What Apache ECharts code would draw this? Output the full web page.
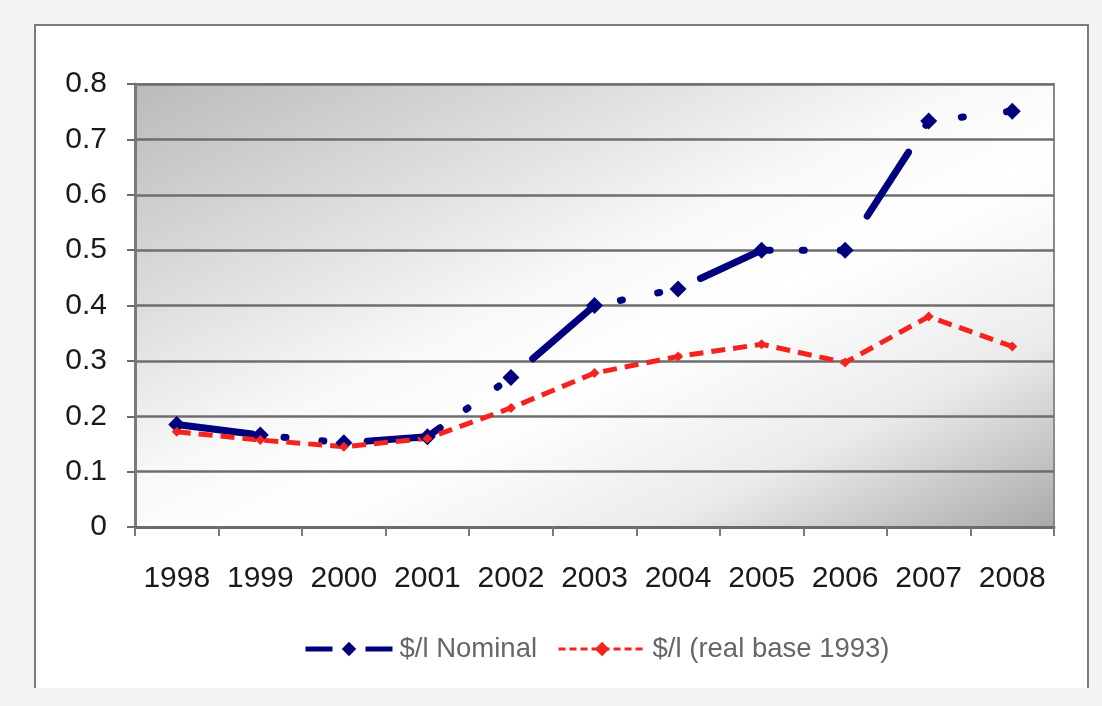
<!DOCTYPE html>
<html>
<head>
<meta charset="utf-8">
<script src="https://cdn.jsdelivr.net/npm/echarts@6/dist/echarts.min.js"></script>
<style>
  html, body { margin: 0; padding: 0; width: 1102px; height: 706px; background: #f3f3f3; overflow: hidden; }
  #frame { position: absolute; left: 34px; top: 24px; width: 1051px; height: 662px; background: #ffffff;
           border-left: 2px solid #7a7a7a; border-top: 2px solid #7a7a7a; border-right: 2px solid #7a7a7a; }
  #chart { position: absolute; left: 0; top: 0; width: 1102px; height: 706px; }
</style>
</head>
<body>
<div id="frame"></div>
<div id="chart"></div>
<script>
const years = ['1998', '1999', '2000', '2001', '2002', '2003', '2004', '2005', '2006', '2007', '2008'];
const nominal = [0.185, 0.166, 0.152, 0.163, 0.27, 0.40, 0.43, 0.50, 0.50, 0.733, 0.751];
const realBase1993 = [0.172, 0.157, 0.145, 0.16, 0.215, 0.278, 0.308, 0.33, 0.297, 0.38, 0.326];
const seriesNames = ['$/l Nominal', '$/l (real base 1993)'];

const chart = echarts.init(document.getElementById('chart'), null, { renderer: 'canvas' });
const font = 'Liberation Sans, Arial, sans-serif';

chart.setOption({
  animation: false,
  backgroundColor: 'transparent',
  grid: {
    left: 135, right: 48, top: 84, bottom: 179,
    show: true,
    borderColor: '#8a8a8a',
    borderWidth: 2,
    backgroundColor: {
      type: 'linear', x: 0, y: 0, x2: 0.375, y2: 1.625,
      colorStops: [
        { offset: 0, color: '#bababa' },
        { offset: 0.25, color: '#dcdcdc' },
        { offset: 0.45, color: '#f8f8f8' },
        { offset: 0.58, color: '#ffffff' },
        { offset: 0.78, color: '#ebebeb' },
        { offset: 1, color: '#a8a8a8' }
      ]
    }
  },
  legend: {
    left: 303, top: 635, padding: 0,
    itemWidth: 87, itemHeight: 18, itemGap: 20,
    textStyle: { fontFamily: font, fontSize: 27.5, color: '#666666', padding: [0, 0, 0, 2] },
    data: [
      { name: seriesNames[0], lineStyle: { type: [27, 33, 27], width: 5, cap: 'butt' } },
      { name: seriesNames[1], lineStyle: { type: [7, 4], width: 3, cap: 'butt' } }
    ]
  },
  xAxis: {
    type: 'category',
    data: years,
    boundaryGap: true,
    axisLine: { show: true, lineStyle: { color: '#6a6a6a', width: 3 } },
    axisTick: { show: true, interval: 0, length: 9, lineStyle: { color: '#7a7a7a', width: 2 } },
    axisLabel: { interval: 0, hideOverlap: false, margin: 37, fontFamily: font, fontSize: 30, color: '#1a1a1a' },
    splitLine: { show: false }
  },
  yAxis: {
    type: 'value',
    min: 0, max: 0.8, interval: 0.1,
    axisLine: { show: true, lineStyle: { color: '#7a7a7a', width: 3 } },
    axisTick: { show: true, length: 8, lineStyle: { color: '#6a6a6a', width: 2 } },
    axisLabel: {
      margin: 28, fontFamily: font, fontSize: 30, color: '#1a1a1a',
      formatter: v => (Math.round(v * 10) / 10).toString()
    },
    splitLine: { show: true, lineStyle: { color: '#6e6e6e', width: 2.5 } }
  },
  series: [
    {
      name: seriesNames[0],
      type: 'line',
      data: nominal,
      symbol: 'diamond',
      symbolSize: 17,
      showAllSymbol: true,
      itemStyle: { color: '#00007e' },
      lineStyle: { color: '#00007e', width: 7, type: [76, 32, 2, 36, 2, 43.5], cap: 'round', join: 'round' }
    },
    {
      name: seriesNames[1],
      type: 'line',
      data: realBase1993,
      symbol: 'diamond',
      symbolSize: 10,
      showAllSymbol: true,
      itemStyle: { color: '#f5231e' },
      lineStyle: { color: '#f5231e', width: 5, type: [14, 8], cap: 'butt', join: 'round' }
    }
  ]
});
</script>
</body>
</html>
